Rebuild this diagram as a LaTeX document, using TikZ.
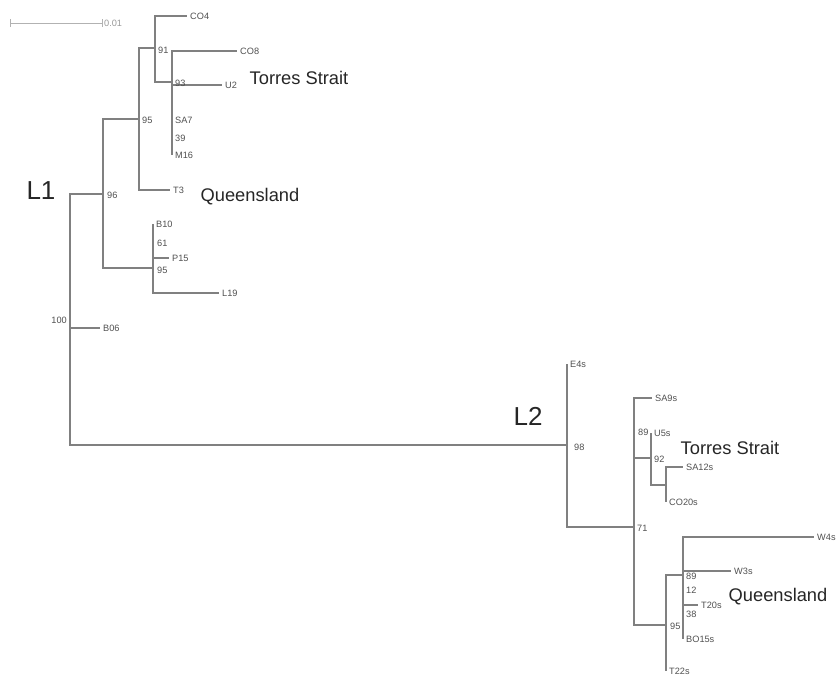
\documentclass[tikz,border=0pt]{standalone}
\usepackage{fontspec}
\setmainfont{Liberation Sans}
\definecolor{branch}{HTML}{808080}
\definecolor{lab}{HTML}{505050}
\tikzset{
  br/.style={draw=branch,line width=1.2pt},
  tip/.style={anchor=west,inner sep=3pt,text=lab,font=\fontsize{9.2}{10}\selectfont,text height=6.6pt,text depth=0pt},
  boot/.style={tip,inner sep=0pt},
  group/.style={font=\fontsize{18.3}{20}\selectfont,text=black!85,inner sep=0pt},
  lineage/.style={font=\fontsize{26}{28}\selectfont,text=black!85,inner sep=0pt}
}
\begin{document}
\begin{tikzpicture}[x=1pt,y=-1pt]
  \useasboundingbox (0,0) rectangle (837,678);
  % internal nodes
  \coordinate (root) at (70,328);
  \coordinate (n96) at (103,194);
  \coordinate (n95a) at (139,119);
  \coordinate (n91) at (155,48);
  \coordinate (n93) at (172,82);
  \coordinate (n95b) at (153,268);
  \coordinate (n98) at (567,445);
  \coordinate (n71) at (634,527);
  \coordinate (n92) at (651,458);
  \coordinate (nsc) at (666,485);
  \coordinate (n95c) at (666,625);
  \coordinate (nq) at (683,575);
  % tips, lineage L1
  \node[tip] (CO4) at (187,16) {CO4};
  \node[tip] (CO8) at (237,51) {CO8};
  \node[tip] (U2) at (222,85) {U2};
  \node[tip] (SA7) at (172,120) {SA7};
  \node[tip] (M16) at (172,155) {M16};
  \node[tip] (T3) at (170,190) {T3};
  \node[tip] (B10) at (153,224) {B10};
  \node[tip] (P15) at (169,258) {P15};
  \node[tip] (L19) at (219,293) {L19};
  \node[tip] (B06) at (100,328) {B06};
  % tips, lineage L2
  \node[tip] (E4s) at (567,364) {E4s};
  \node[tip] (SA9s) at (652,398) {SA9s};
  \node[tip] (U5s) at (651,433) {U5s};
  \node[tip] (SA12s) at (683,467) {SA12s};
  \node[tip] (CO20s) at (666,502) {CO20s};
  \node[tip] (W4s) at (814,537) {W4s};
  \node[tip] (W3s) at (731,571) {W3s};
  \node[tip] (T20s) at (698,605) {T20s};
  \node[tip] (BO15s) at (683,639) {BO15s};
  \node[tip] (T22s) at (666,671) {T22s};
  % branches
  \foreach \a/\b in {root/n96,root/B06.west,root/n98,
      n96/n95a,n96/n95b,n95a/n91,n95a/T3.west,n91/CO4.west,n91/n93,
      n93/CO8.west,n93/U2.west,n93/M16.west,
      n95b/B10.west,n95b/P15.west,n95b/L19.west,
      n98/E4s.west,n98/n71,n71/SA9s.west,n71/n92,n71/n95c,
      n92/U5s.west,n92/nsc,nsc/SA12s.west,nsc/CO20s.west,
      n95c/nq,n95c/T22s.west,
      nq/W4s.west,nq/W3s.west,nq/T20s.west,nq/BO15s.west}
    \draw[br] (\a) |- (\b);
  % bootstrap values
  \node[boot] (b91) at (158,50) {91};
  \node[boot] (b93) at (175,83) {93};
  \node[boot] (b95a) at (142,120) {95};
  \node[boot] (b39) at (175,138) {39};
  \node[boot] (b96) at (107,195) {96};
  \node[boot] (b61) at (157,243) {61};
  \node[boot] (b95b) at (157,270) {95};
  \node[boot,anchor=east] (b100) at (67,320) {100};
  \node[boot] (b98) at (574,447) {98};
  \node[boot] (b89a) at (638,432) {89};
  \node[boot] (b92) at (654,459) {92};
  \node[boot] (b71) at (637,528) {71};
  \node[boot] (b89b) at (686,576) {89};
  \node[boot] (b12) at (686,590) {12};
  \node[boot] (b38) at (686,614) {38};
  \node[boot] (b95c) at (670,626) {95};
  % scale bar
  \coordinate (sb0) at (10,23);
  \coordinate (sb1) at (103,23);
  \draw[draw=black!30,line width=1pt,|-|] (sb0) -- (sb1);
  \node[tip,text=black!40,inner sep=1pt] (sbl) at (sb1) {0.01};
  % labels
  \node[lineage] (L1) at (41,191) {L1};
  \node[lineage] (L2) at (528,416) {L2};
  \node[group] (ts1) at (299,78) {Torres Strait};
  \node[group] (qld1) at (250,197) {Queensland};
  \node[group] (ts2) at (730,448) {Torres Strait};
  \node[group] (qld2) at (778,597) {Queensland};
\end{tikzpicture}
\end{document}
